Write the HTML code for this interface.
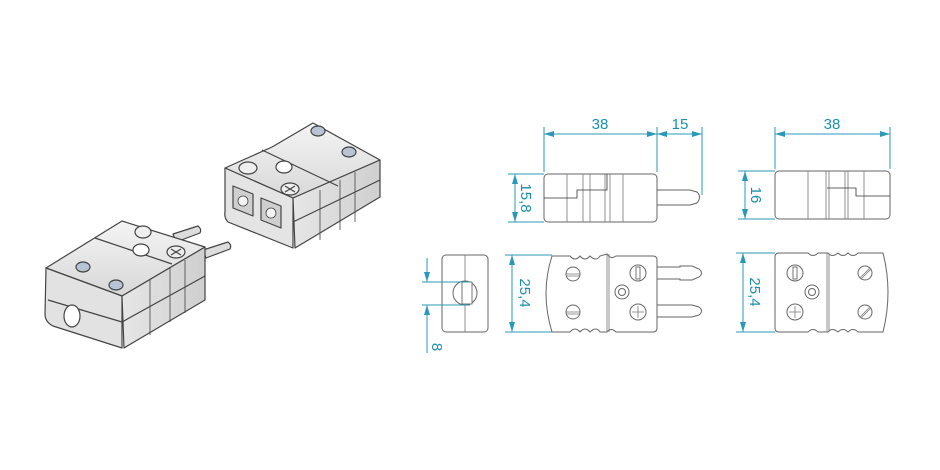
<!DOCTYPE html>
<html><head><meta charset="utf-8"><style>
html,body{margin:0;padding:0;background:#fff;width:940px;height:470px;overflow:hidden}
svg{display:block}
.t{font-family:"Liberation Sans",sans-serif;font-size:15px;fill:#1a8fb0}
.d{stroke:#2a98b8;stroke-width:1;fill:none}
.o{stroke:#666;stroke-width:1;fill:#fff}
.l{stroke:#777;stroke-width:0.8;fill:none}
</style></head><body>
<svg width="940" height="470" viewBox="0 0 940 470">
<defs>
<marker id="a" viewBox="0 0 10 6" refX="10" refY="3" markerWidth="10" markerHeight="6" orient="auto-start-reverse"><path d="M0,0 L10,3 L0,6z" fill="#2a98b8"/></marker>
<linearGradient id="g1" x1="0" y1="0" x2="0" y2="1"><stop offset="0" stop-color="#f4f4f4"/><stop offset="1" stop-color="#d8d8d8"/></linearGradient>
<linearGradient id="g2" x1="0" y1="0" x2="1" y2="0"><stop offset="0" stop-color="#e6e6e6"/><stop offset="1" stop-color="#cfcfcf"/></linearGradient>
</defs>

<!-- 3D male connector (left) -->
<g stroke="#444" stroke-width="1.2" stroke-linejoin="round">
 <path d="M173,234 L198,226 Q202,229 200,233 L176,242z" fill="#ddd"/>
 <path d="M203,250 L228,242 Q232,245 230,249 L206,258z" fill="#ddd"/>
 <path d="M46,268 L122,221 L205,247 L122,296z" fill="url(#g1)"/>
 <path d="M46,268 L122,296 L122,348 L53,326 Q45,322 45,314z" fill="#e2e2e2"/>
 <path d="M122,296 L205,247 L205,300 L124,348z" fill="url(#g2)"/>
 <path d="M48,300 L122,322 L205,276" fill="none"/>
 <path d="M95,238 L172,264" fill="none"/>
 <path d="M150,280 L150,335 M170,268 L170,322 M185,260 L185,313" fill="none" stroke-width="0.8"/>
 <ellipse cx="72" cy="316" rx="8" ry="11" fill="#fff"/>
 <ellipse cx="83" cy="267" rx="7" ry="5" fill="#b8c4d4"/>
 <ellipse cx="116" cy="285" rx="7" ry="5" fill="#b8c4d4"/>
 <ellipse cx="143" cy="232" rx="8" ry="6" fill="#eee"/>
 <ellipse cx="141" cy="250" rx="8" ry="6" fill="#fff"/>
 <ellipse cx="176" cy="252" rx="9" ry="6" fill="#eee"/>
 <path d="M171,249 L181,255 M181,249 L171,255" fill="none"/>
</g>

<!-- 3D female connector (right) -->
<g stroke="#444" stroke-width="1.2" stroke-linejoin="round">
 <path d="M225,168 L272,147 L313,123 L380,160 L293,198z" fill="url(#g1)"/>
 <path d="M225,168 L293,198 L293,248 L228,222 Q224,218 225,212z" fill="#e4e4e4"/>
 <path d="M293,198 L380,160 L380,197 L295,248z" fill="url(#g2)"/>
 <path d="M293,222 L380,180" fill="none"/>
 <path d="M262,150 L338,186" fill="none"/>
 <path d="M320,190 L320,240 M340,180 L340,230 M355,172 L355,222" fill="none" stroke-width="0.8"/>
 <path d="M233,186 L253,194 L253,216 L233,208z" fill="#cfcfcf"/>
 <path d="M261,198 L281,206 L281,228 L261,220z" fill="#cfcfcf"/>
 <circle cx="243" cy="201" r="5" fill="#f4f4f4" stroke-width="0.8"/>
 <circle cx="271" cy="213" r="5" fill="#f4f4f4" stroke-width="0.8"/>
 <ellipse cx="248" cy="168" rx="9" ry="6" fill="#eee"/>
 <ellipse cx="284" cy="167" rx="8" ry="6" fill="#fff"/>
 <ellipse cx="290" cy="189" rx="9" ry="6" fill="#eee"/>
 <path d="M285,186 L295,192 M295,186 L285,192" fill="none"/>
 <ellipse cx="318" cy="131" rx="7" ry="5" fill="#b8c4d4"/>
 <ellipse cx="349" cy="152" rx="7" ry="5" fill="#b8c4d4"/>
</g>

<!-- Side view male -->
<rect class="o" x="544" y="174" width="113" height="48" rx="4"/>
<path class="l" d="M567,174V222 M583,174V222 M590,174V222 M605,174V222 M610,174V222 M623,174V222"/>
<path d="M544,198H577V190H607V174" stroke="#333" stroke-width="0.8" fill="none"/>
<path class="o" d="M657,190H690L697,192Q702,197 697,203L690,205H657z"/>
<path class="d" d="M544,172V127 M657,172V127 M702,195V127"/>
<path class="d" d="M544,134H657" marker-start="url(#a)" marker-end="url(#a)"/>
<path class="d" d="M657,134H702" marker-start="url(#a)" marker-end="url(#a)"/>
<text class="t" x="600" y="129" text-anchor="middle">38</text>
<text class="t" x="680" y="129" text-anchor="middle">15</text>
<path class="d" d="M508,174H544 M508,222H544"/>
<path class="d" d="M515,174V222" marker-start="url(#a)" marker-end="url(#a)"/>
<text class="t" transform="translate(521,198) rotate(90)" text-anchor="middle">15,8</text>

<!-- End view -->
<rect class="o" x="442" y="255" width="46" height="77" rx="4"/>
<path class="l" d="M465,255V332" stroke="#555"/>
<circle class="o" cx="465" cy="293" r="12"/>
<rect x="462" y="282" width="10" height="22" fill="#fff" stroke="#555" stroke-width="0.8"/>
<path class="d" d="M422,282H470 M422,305H470"/>
<path class="d" d="M427,258V282" marker-end="url(#a)"/>
<path class="d" d="M427,353V305" marker-end="url(#a)"/>
<text class="t" transform="translate(432,347) rotate(90)" text-anchor="middle">8</text>

<!-- Top view male -->
<path class="o" d="M657,267H680V266H692L699,269Q704,273 699,277L692,280H680V279H657z M657,305H692L699,307Q704,311 699,315L692,317H657z"/>
<path class="o" d="M552,256H570Q575,262 580,256Q585,262 590,256Q596,262 600,256L607,254Q611,260 616,256H653Q657,256 657,260V328Q657,332 653,332H616Q611,327 607,332H600Q596,326 590,332Q585,326 580,332Q575,326 570,332H552Q540,293 552,256z"/>
<path class="l" d="M607,254V332 M609,254V332"/>
<circle class="o" cx="573" cy="274" r="7"/><path class="l" d="M566,274H580 M566,276H580" stroke="#555"/>
<circle class="o" cx="573" cy="312" r="7"/><path class="l" d="M566,312H580 M566,314H580" stroke="#555"/>
<circle class="o" cx="638" cy="273" r="8"/><rect x="636" y="267" width="4" height="12" fill="none" stroke="#555" stroke-width="0.8"/>
<circle class="o" cx="622" cy="292" r="7"/><circle class="o" cx="622" cy="292" r="3.5"/>
<circle class="o" cx="638" cy="312" r="8"/><path class="l" d="M632,312H644 M638,306V318" stroke="#555" stroke-width="2.5"/>
<path class="d" d="M505,255H552 M505,332H552"/>
<path class="d" d="M512,255V332" marker-start="url(#a)" marker-end="url(#a)"/>
<text class="t" transform="translate(520,293) rotate(90)" text-anchor="middle">25,4</text>

<!-- Side view female -->
<rect class="o" x="775" y="171" width="115" height="48" rx="4"/>
<path class="l" d="M808,171V219 M826,171V219 M829,171V219 M845,171V219 M848,171V219 M864,171V219"/>
<path d="M827,188H856V196H890" stroke="#333" stroke-width="0.8" fill="none"/>
<path class="d" d="M775,169V127 M890,169V127"/>
<path class="d" d="M775,134H890" marker-start="url(#a)" marker-end="url(#a)"/>
<text class="t" x="832" y="129" text-anchor="middle">38</text>
<path class="d" d="M738,171H775 M738,219H775"/>
<path class="d" d="M745,171V219" marker-start="url(#a)" marker-end="url(#a)"/>
<text class="t" transform="translate(751,195) rotate(90)" text-anchor="middle">16</text>

<!-- Top view female -->
<path class="o" d="M779,253H808Q813,258 818,253H828Q832,258 838,253Q843,258 848,253Q853,258 858,253H883Q893,292 883,332H858Q853,327 848,332Q843,327 838,332Q832,327 828,332H818Q813,327 808,332H779Q775,332 775,328V257Q775,253 779,253z"/>
<path class="l" d="M827,253V332 M829,253V332"/>
<circle class="o" cx="795" cy="273" r="8"/><rect x="793" y="267" width="4" height="12" fill="none" stroke="#555" stroke-width="0.8"/>
<circle class="o" cx="812" cy="292" r="7"/><circle class="o" cx="812" cy="292" r="3.5"/>
<circle class="o" cx="795" cy="312" r="8"/><path class="l" d="M789,312H801 M795,306V318" stroke="#555" stroke-width="2.5"/>
<circle class="o" cx="865" cy="273" r="7"/><path class="l" d="M860,278L870,268 M861,279L871,269" stroke="#555"/>
<circle class="o" cx="865" cy="312" r="7"/><path class="l" d="M860,317L870,307 M861,318L871,308" stroke="#555"/>
<path class="d" d="M736,253H775 M736,332H775"/>
<path class="d" d="M743,253V332" marker-start="url(#a)" marker-end="url(#a)"/>
<text class="t" transform="translate(750,292) rotate(90)" text-anchor="middle">25,4</text>
</svg>
</body></html>
